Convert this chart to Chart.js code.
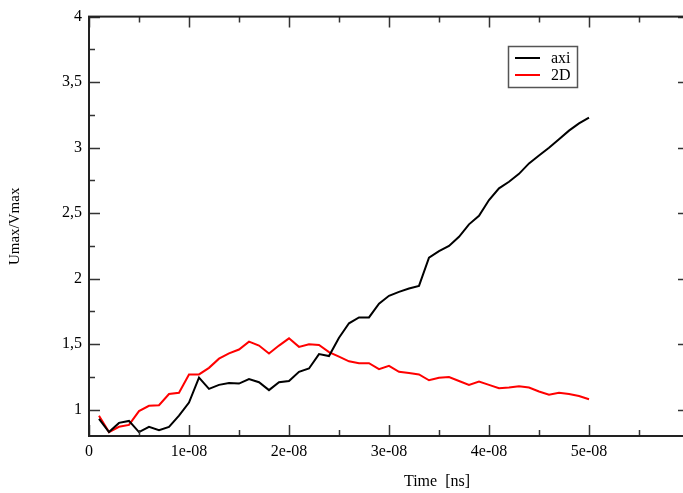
<!DOCTYPE html>
<html>
<head>
<meta charset="utf-8">
<script src="https://cdn.jsdelivr.net/npm/chart.js@4.4.1/dist/chart.umd.min.js"></script>
<style>
html,body{margin:0;padding:0;background:#fff;overflow:hidden;width:683px;height:493px;}
#wrap{position:absolute;left:0;top:0;width:695px;height:493px;}
canvas{display:block;background:#fff;}
</style>
</head>
<body>
<div id="wrap"><canvas id="c" width="695" height="493"></canvas></div>
<script>
// ---- data ----
const times = [1e-9,2e-9,3e-9,4e-9,5e-9,6e-9,7e-9,8e-9,9e-9,1e-8,
  1.1e-8,1.2e-8,1.3e-8,1.4e-8,1.5e-8,1.6e-8,1.7e-8,1.8e-8,1.9e-8,2e-8,
  2.1e-8,2.2e-8,2.3e-8,2.4e-8,2.5e-8,2.6e-8,2.7e-8,2.8e-8,2.9e-8,3e-8,
  3.1e-8,3.2e-8,3.3e-8,3.4e-8,3.5e-8,3.6e-8,3.7e-8,3.8e-8,3.9e-8,4e-8,
  4.1e-8,4.2e-8,4.3e-8,4.4e-8,4.5e-8,4.6e-8,4.7e-8,4.8e-8,4.9e-8,5e-8];
const axi = [0.93,0.83,0.90,0.915,0.83,0.87,0.845,0.87,0.955,1.055,
  1.245,1.16,1.19,1.205,1.20,1.235,1.21,1.15,1.21,1.22,
  1.29,1.315,1.425,1.41,1.55,1.66,1.705,1.705,1.81,1.87,
  1.90,1.925,1.945,2.16,2.21,2.25,2.32,2.415,2.48,2.60,
  2.69,2.74,2.80,2.88,2.94,3.00,3.065,3.13,3.185,3.23];
const twoD = [0.955,0.83,0.87,0.885,0.99,1.03,1.035,1.12,1.13,1.27,
  1.27,1.32,1.39,1.43,1.46,1.52,1.49,1.43,1.49,1.545,
  1.48,1.50,1.495,1.44,1.405,1.37,1.355,1.355,1.31,1.335,
  1.29,1.28,1.27,1.225,1.245,1.25,1.22,1.19,1.215,1.19,
  1.165,1.17,1.18,1.17,1.14,1.115,1.13,1.12,1.105,1.08];
const seriesNames = ['axi','2D'];
const xTickValues = [0,1e-8,2e-8,3e-8,4e-8,5e-8,6e-8];
const xTickLabels = ['0','1e-08','2e-08','3e-08','4e-08','5e-08',''];
const xMinorValues = [5e-9,1.5e-8,2.5e-8,3.5e-8,4.5e-8,5.5e-8];
const yTickValues = [1,1.5,2,2.5,3,3.5,4];
const yTickLabels = ['1','1,5','2','2,5','3','3,5','4'];
const yMinorValues = [1.25,1.75,2.25,2.75,3.25,3.75];
const xTitle = 'Time  [ns]';
const yTitle = 'Umax/Vmax';

const FONT = '"Liberation Serif", "DejaVu Serif", serif';

const framePlugin = {
  id: 'frame',
  afterDraw(chart) {
    const ctx = chart.ctx, a = chart.chartArea;
    const xs = chart.scales.x, ys = chart.scales.y;
    ctx.save();
    // ticks
    ctx.strokeStyle = '#333';
    ctx.lineWidth = 1.5;
    const major = 11, minor = 6;
    const xt = (vals, len) => vals.forEach(v => {
      const px = Math.round(xs.getPixelForValue(v)) + 0.5;
      ctx.beginPath();
      ctx.moveTo(px, a.bottom); ctx.lineTo(px, a.bottom - len);
      ctx.moveTo(px, a.top); ctx.lineTo(px, a.top + len);
      ctx.stroke();
    });
    const yt = (vals, len) => vals.forEach(v => {
      const py = Math.round(ys.getPixelForValue(v)) + 0.5;
      ctx.beginPath();
      ctx.moveTo(a.left, py); ctx.lineTo(a.left + len, py);
      ctx.moveTo(a.right, py); ctx.lineTo(a.right - len, py);
      ctx.stroke();
    });
    xt(xTickValues, major); xt(xMinorValues, minor);
    yt(yTickValues, major); yt(yMinorValues, minor);
    // frame
    ctx.strokeStyle = '#222';
    ctx.lineWidth = 2;
    ctx.strokeRect(a.left, a.top, a.right - a.left, a.bottom - a.top);
    // axis titles
    ctx.fillStyle = '#000';
    ctx.font = '16px ' + FONT;
    ctx.textAlign = 'center';
    ctx.textBaseline = 'middle';
    ctx.fillText(xTitle, 437, 482);
    ctx.save();
    ctx.translate(15, (a.top + a.bottom) / 2);
    ctx.rotate(-Math.PI / 2);
    ctx.font = '15px ' + FONT;
    ctx.fillText(yTitle, 0, 0);
    ctx.restore();
    // legend
    const lx = 508, ly = 46, lw = 69, lh = 41;
    ctx.fillStyle = '#fff';
    ctx.fillRect(lx, ly, lw, lh);
    ctx.strokeStyle = '#555';
    ctx.lineWidth = 1.5;
    ctx.strokeRect(lx + 0.5, ly + 0.5, lw, lh);
    ctx.font = '16px ' + FONT;
    ctx.textAlign = 'left';
    chart.data.datasets.forEach((ds, i) => {
      const yy = ly + 12 + i * 17;
      ctx.strokeStyle = ds.borderColor;
      ctx.lineWidth = 2;
      ctx.beginPath();
      ctx.moveTo(lx + 7, yy); ctx.lineTo(lx + 32, yy);
      ctx.stroke();
      ctx.fillStyle = '#000';
      ctx.fillText(ds.label, lx + 43, yy + 1);
    });
    ctx.restore();
  }
};

const mk = arr => times.map((t, i) => ({x: t, y: arr[i]}));

new Chart(document.getElementById('c'), {
  type: 'line',
  data: {
    datasets: [
      {label: seriesNames[0], data: mk(axi), borderColor: '#000000', borderWidth: 2, pointRadius: 0, tension: 0, fill: false},
      {label: seriesNames[1], data: mk(twoD), borderColor: '#ff0000', borderWidth: 2, pointRadius: 0, tension: 0, fill: false}
    ]
  },
  options: {
    responsive: false,
    animation: false,
    devicePixelRatio: 1,
    layout: {padding: {top: 16, right: 3, left: 0, bottom: 0}},
    plugins: {legend: {display: false}, tooltip: {enabled: false}},
    scales: {
      x: {
        type: 'linear', min: 0, max: 6e-8,
        grid: {display: false, drawTicks: false},
        border: {display: false},
        afterBuildTicks: s => { s.ticks = xTickValues.map(v => ({value: v})); },
        afterFit: s => { s.height = 57; },
        ticks: {
          padding: 6, maxRotation: 0, autoSkip: false,
          color: '#000', font: {family: FONT, size: 16},
          callback: (v, i) => xTickLabels[i]
        }
      },
      y: {
        type: 'linear', min: 0.8, max: 4,
        grid: {display: false, drawTicks: false},
        border: {display: false},
        afterBuildTicks: s => { s.ticks = yTickValues.map(v => ({value: v})); },
        afterFit: s => { s.width = 89; },
        ticks: {
          padding: 7, autoSkip: false,
          color: '#000', font: {family: FONT, size: 16},
          callback: (v, i) => yTickLabels[i]
        }
      }
    }
  },
  plugins: [framePlugin]
});
</script>
</body>
</html>
